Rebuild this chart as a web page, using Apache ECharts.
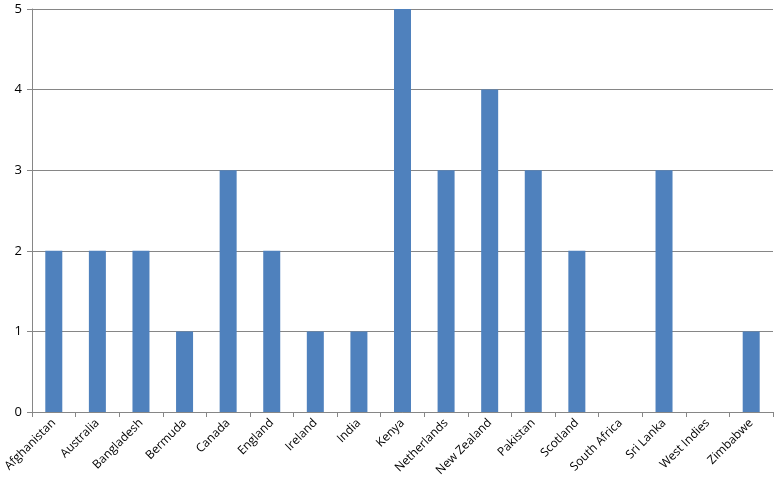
<!DOCTYPE html>
<html><head><meta charset="utf-8">
<script src="https://cdn.jsdelivr.net/npm/echarts@6/dist/echarts.min.js"></script>
<style>html,body{margin:0;padding:0;background:#fff}#c{width:783px;height:488px}</style>
</head><body><div id="c"></div>
<script>
var categories = ["Afghanistan","Australia","Bangladesh","Bermuda","Canada","England","Ireland","India","Kenya","Netherlands","New Zealand","Pakistan","Scotland","South Africa","Sri Lanka","West Indies","Zimbabwe"];
var values = [2,2,2,1,3,2,1,1,5,3,4,3,2,0,3,0,1];
var yTicks = [0,1,2,3,4,5];
var chart = echarts.init(document.getElementById('c'), null, {renderer:'canvas'});
chart.setOption({
  animation:false,
  grid:{left:32,right:10,top:9,bottom:76,containLabel:false},
  xAxis:{type:'category',data:categories,
    axisLine:{lineStyle:{color:'#868686'}},
    axisTick:{show:true,alignWithLabel:false,length:5,lineStyle:{color:'#868686'}},
    axisLabel:{rotate:45,color:'#000',fontFamily:'Open Sans',fontSize:12,interval:0,margin:9}
  },
  yAxis:{type:'value',min:yTicks[0],max:yTicks[yTicks.length-1],interval:1,
    axisLine:{show:true,lineStyle:{color:'#868686'}},
    axisTick:{show:true,length:5,lineStyle:{color:'#868686'}},
    splitLine:{lineStyle:{color:'#868686'}},
    axisLabel:{color:'#000',fontFamily:'Open Sans',fontSize:13,margin:10}
  },
  series:[{type:'bar',data:values.map(function(v){return v===0?null:v;}),barWidth:17,itemStyle:{color:'#4F81BD'}}]
});
</script></body></html>
